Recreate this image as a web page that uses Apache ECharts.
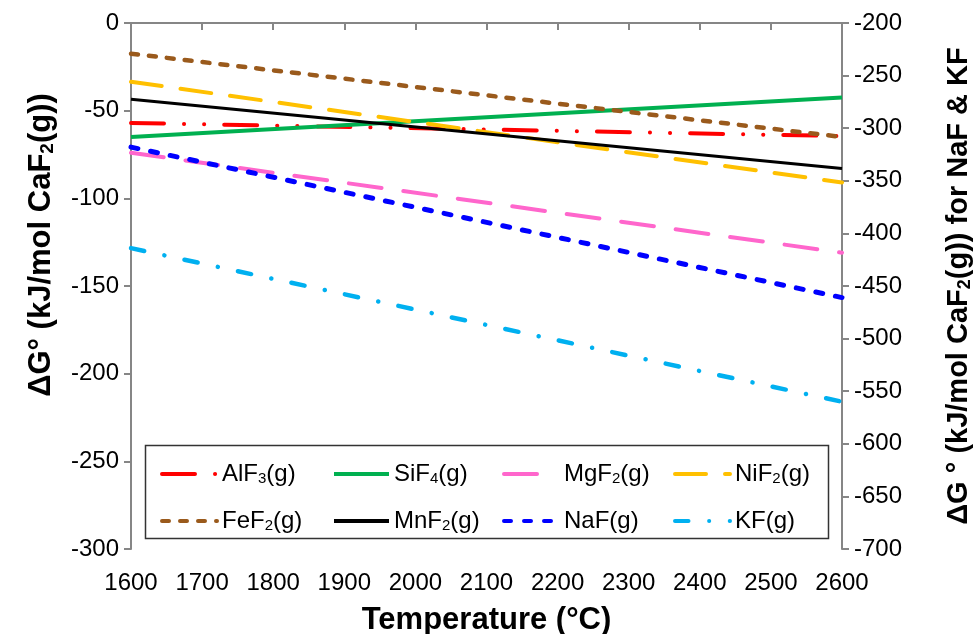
<!DOCTYPE html>
<html>
<head>
<meta charset="utf-8">
<script src="https://cdn.jsdelivr.net/npm/echarts@6/dist/echarts.min.js"></script>
<style>
html,body{margin:0;padding:0;background:#fff;}
#c{width:974px;height:634px;}
</style>
</head>
<body>
<div id="c"></div>
<script>
// ---- data ----
const temps = [1600, 2600];
const alf3 = [-57, -64.5];
const sif4 = [-65, -42.5];
const mgf2 = [-74, -131];
const nif2 = [-33.5, -91];
const fef2 = [-17.5, -65];
const mnf2 = [-43.5, -83];
const naf = [-318, -461];   // right axis
const kf = [-414, -560];    // right axis
const xTicks = [1600, 2600, 100];
const leftTicks = [-300, 0, 50];
const rightTicks = [-700, -200, 50];

const FONT = '"Liberation Sans", Arial, sans-serif';
const pts = arr => temps.map((t, i) => [t, arr[i]]);

const names = ['AlF3(g)', 'SiF4(g)', 'MgF2(g)', 'NiF2(g)', 'FeF2(g)', 'MnF2(g)', 'NaF(g)', 'KF(g)'];
const richNames = {
  'AlF3(g)': '{n|AlF}{s|3}{n|(g)}',
  'SiF4(g)': '{n|SiF}{s|4}{n|(g)}',
  'MgF2(g)': '{n|MgF}{s|2}{n|(g)}',
  'NiF2(g)': '{n|NiF}{s|2}{n|(g)}',
  'FeF2(g)': '{n|FeF}{s|2}{n|(g)}',
  'MnF2(g)': '{n|MnF}{s|2}{n|(g)}',
  'NaF(g)': '{n|NaF(g)}',
  'KF(g)': '{n|KF(g)}'
};

function ser(name, data, color, width, dash, yIdx) {
  return {
    name: name, type: 'line', data: pts(data), yAxisIndex: yIdx || 0,
    symbol: 'none', smooth: false,
    lineStyle: { color: color, width: width, type: dash || 'solid', cap: dash ? 'round' : 'butt' },
    itemStyle: { color: color },
    emphasis: { disabled: true }
  };
}

const series = [
  ser('AlF3(g)', alf3, '#FF0000', 4, [33, 20, 0.1, 20, 0.1, 20]),
  ser('SiF4(g)', sif4, '#00B050', 4, null),
  ser('MgF2(g)', mgf2, '#FF66CC', 4, [33, 22]),
  ser('NiF2(g)', nif2, '#FFC000', 4, [31, 19]),
  ser('FeF2(g)', fef2, '#9A5A1C', 4.5, [7, 11]),
  ser('MnF2(g)', mnf2, '#000000', 3, null),
  ser('NaF(g)', naf, '#0000FF', 5, [7, 13], 1),
  ser('KF(g)', kf, '#00B0F0', 4.5, [13.5, 20.6, 0.1, 20.5], 1)
];

const colX = [160, 332, 502, 673];
const rowY = [469, 516];
const legends = names.map((n, i) => ({
  data: [n],
  left: colX[i % 4],
  top: rowY[Math.floor(i / 4)] - 7,
  padding: 0,
  itemWidth: 55,
  itemHeight: 14,
  itemGap: 0,
  z: 10,
  selectedMode: false,
  itemStyle: { opacity: 0 },
  lineStyle: { width: 4 },
  formatter: nm => richNames[nm],
  textStyle: {
    padding: [0, 0, 0, 0],
    rich: {
      n: { fontFamily: FONT, fontSize: 24, color: '#000' },
      s: { fontFamily: FONT, fontSize: 15, color: '#000', verticalAlign: 'bottom', padding: [10, 0, 0, 0] }
    }
  }
}));

const axisLine = { show: true, lineStyle: { color: '#868686', width: 2 } };
const tickLabel = { fontFamily: FONT, fontSize: 24, color: '#000', formatter: v => String(v) };

const titleRich = size => ({
  b: { fontFamily: FONT, fontSize: size, fontWeight: 'bold', color: '#000' },
  bs: { fontFamily: FONT, fontSize: Math.round(size * 0.62), fontWeight: 'bold', color: '#000', verticalAlign: 'bottom', padding: [Math.round(size * 0.42), 0, 0, 0] }
});

const option = {
  backgroundColor: '#fff',
  animation: false,
  grid: { left: 131, right: 132, top: 23, bottom: 85, containLabel: false, outerBoundsMode: 'none' },
  graphic: [{
    type: 'rect', z: 5,
    shape: { x: 145.5, y: 445.5, width: 683, height: 93 },
    style: { fill: '#fff', stroke: '#333', lineWidth: 1.5 }
  }],
  legend: legends,
  xAxis: [{
    type: 'value', min: xTicks[0], max: xTicks[1], interval: xTicks[2],
    axisLine: { show: true, lineStyle: { color: '#555', width: 2 } },
    axisTick: { show: false },
    splitLine: { show: false },
    axisLabel: Object.assign({ margin: 22 }, tickLabel),
    name: 'Temperature (°C)', nameLocation: 'middle', nameGap: 56,
    nameTextStyle: { fontFamily: FONT, fontSize: 31, fontWeight: 'bold', color: '#000' }
  }, {
    type: 'value', position: 'top', min: xTicks[0], max: xTicks[1], interval: xTicks[2],
    axisLine: axisLine,
    axisTick: { show: true, inside: true, length: 7, lineStyle: { color: '#868686', width: 2 } },
    axisLabel: { show: false }, splitLine: { show: false }
  }],
  yAxis: [{
    type: 'value', min: leftTicks[0], max: leftTicks[1], interval: leftTicks[2],
    axisLine: axisLine,
    axisTick: { show: true, length: 7, lineStyle: { color: '#868686', width: 2 } },
    splitLine: { show: false },
    axisLabel: Object.assign({ margin: 12 }, tickLabel),
    name: '{b|ΔG° (kJ/mol CaF}{bs|2}{b|(g))}', nameLocation: 'middle', nameGap: 74, nameRotate: 90,
    nameTextStyle: { padding: [0, 0, 0, 82], rich: titleRich(31) }
  }, {
    type: 'value', position: 'right', min: rightTicks[0], max: rightTicks[1], interval: rightTicks[2],
    axisLine: axisLine,
    axisTick: { show: true, length: 7, lineStyle: { color: '#868686', width: 2 } },
    splitLine: { show: false },
    axisLabel: Object.assign({ margin: 12 }, tickLabel),
    name: '{b|ΔG ° (kJ/mol CaF}{bs|2}{b|(g)) for NaF & KF}', nameLocation: 'middle', nameGap: 102, nameRotate: 90,
    nameTextStyle: { rich: titleRich(29) }
  }],
  series: series
};

const chart = echarts.init(document.getElementById('c'), null, { renderer: 'canvas' });
chart.setOption(option);
</script>
</body>
</html>
